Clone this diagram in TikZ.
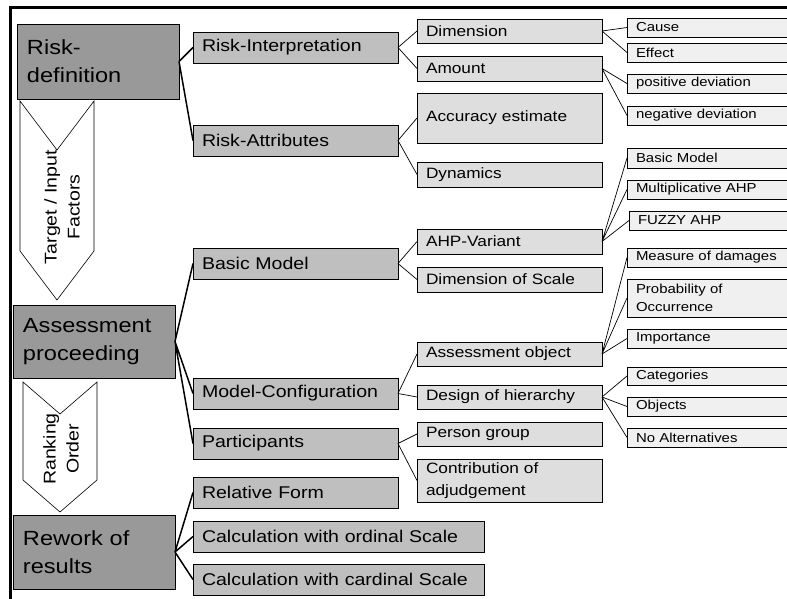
\documentclass[tikz,border=0pt]{standalone}
\usepackage{fontspec}
\newfontfamily\diagfont[FakeStretch=1.15]{Liberation Sans}

\begin{document}
\begin{tikzpicture}[x=1pt, y=-1pt,
  box/.style={draw, anchor=north west, align=left, inner xsep=9pt, inner ysep=1pt,
              outer sep=0pt, line width=0.6pt},
  lzero/.style={box, fill=black!40, inner xsep=10pt, text width=142pt,
                font=\diagfont\fontsize{20.5}{28}\selectfont},
  lone/.style={box, fill=black!25, minimum height=31pt, text width=187pt,
               font=\diagfont\fontsize{17}{20}\selectfont},
  ltwo/.style={box, fill=black!13, minimum height=25pt, text width=167pt,
               font=\diagfont\fontsize{15}{22}\selectfont},
  lthree/.style={box, fill=black!6, minimum height=19pt, text width=145pt,
                 font=\diagfont\fontsize{13}{18}\selectfont},
  trunk/.style={line width=1.5pt},
  twig/.style={line width=0.7pt},
  chevron/.style={draw, fill=white, line width=0.6pt},
  flow/.style={rotate=90, align=center, inner sep=0pt,
               font=\diagfont\fontsize{17}{23}\selectfont}
]
  \useasboundingbox (0,0) rectangle (787,599);
  \draw[line width=3pt] (10,599) -- (10,7.5) -- (787,7.5);

  % main stages
  \node[lzero, minimum height=75pt] (rdef) at (17,24) {Risk-\\definition};
  \node[lzero, minimum height=73pt] (aproc) at (13,305) {Assessment\\proceeding};
  \node[lzero, minimum height=74pt] (rework) at (13,515) {Rework of\\results};

  % chevrons between the stages
  \draw[chevron] (20,101) -- (57,150) -- (94,101) -- (94,251) -- (57,300) -- (20,251) -- cycle;
  \node[flow] (target) at (62,207) {Target / Input\\Factors};
  \draw[chevron] (23,382) -- (60,414) -- (97,382) -- (97,480) -- (60,512) -- (23,480) -- cycle;
  \node[flow] (ranking) at (61,449) {Ranking\\Order};

  % second column
  \node[lone] (rinterp) at (193,32) {Risk-Interpretation};
  \node[lone] (rattr) at (193,125) {Risk-Attributes};
  \node[lone] (bmodel) at (193,248) {Basic Model};
  \node[lone] (mconf) at (193,378) {Model-Configuration};
  \node[lone] (partic) at (193,428) {Participants};
  \node[lone] (relform) at (193,477) {Relative Form};
  \node[lone, text width=273pt] (ordcalc) at (193,521) {Calculation with ordinal Scale};
  \node[lone, text width=273pt] (cardcalc) at (193,564) {Calculation with cardinal Scale};

  % third column
  \node[ltwo, minimum height=24pt] (dim) at (417,19) {Dimension};
  \node[ltwo] (amount) at (417,56) {Amount};
  \node[ltwo, minimum height=50pt] (accur) at (417,93) {Accuracy estimate};
  \node[ltwo] (dyn) at (417,162) {Dynamics};
  \node[ltwo] (ahpvar) at (417,229) {AHP-Variant};
  \node[ltwo] (dimscale) at (417,267) {Dimension of Scale};
  \node[ltwo, minimum height=24pt] (aobj) at (417,342) {Assessment object};
  \node[ltwo, minimum height=24pt] (dhier) at (417,385) {Design of hierarchy};
  \node[ltwo, minimum height=24pt] (pgroup) at (417,422) {Person group};
  \node[ltwo, minimum height=43pt] (contrib) at (417,459) {Contribution of\\adjudgement};

  % fourth column
  \node[lthree] (cause) at (627,18) {Cause};
  \node[lthree] (effect) at (627,43) {Effect};
  \node[lthree] (posdev) at (627,74) {positive deviation};
  \node[lthree] (negdev) at (627,106) {negative deviation};
  \node[lthree, minimum height=20pt] (basicx) at (627,148) {Basic Model};
  \node[lthree] (multahp) at (627,180) {Multiplicative AHP};
  \node[lthree, text width=143pt] (fuzzy) at (629,211) {FUZZY AHP};
  \node[lthree] (damage) at (627,248) {Measure of damages};
  \node[lthree, minimum height=38pt] (prob) at (627,279) {Probability of\\Occurrence};
  \node[lthree] (import) at (627,329) {Importance};
  \node[lthree, minimum height=18pt] (categ) at (627,367) {Categories};
  \node[lthree] (objs) at (627,397) {Objects};
  \node[lthree] (noalt) at (627,428) {No Alternatives};

  \draw[trunk] (rdef.east) -- (rinterp.west) (rdef.east) -- (rattr.west);
  \draw[trunk] (aproc.east) -- (bmodel.west) (aproc.east) -- (mconf.west)
               (aproc.east) -- (partic.west);
  \draw[trunk] (rework.east) -- (relform.west) (rework.east) -- (ordcalc.west)
               (rework.east) -- (cardcalc.west);

  \draw[twig] (rinterp.east) -- (dim.west) (rinterp.east) -- (amount.west);
  \draw[twig] (rattr.east) -- (accur.west) (rattr.east) -- (dyn.west);
  \draw[twig] (bmodel.east) -- (ahpvar.west) (bmodel.east) -- (dimscale.west);
  \draw[twig] (mconf.east) -- (aobj.west) (mconf.east) -- (dhier.west);
  \draw[twig] (partic.east) -- (pgroup.west) (partic.east) -- (contrib.west);

  \draw[twig] (dim.east) -- (cause.west) (dim.east) -- (effect.west);
  \draw[twig] (amount.east) -- (posdev.west) (amount.east) -- (negdev.west);
  \draw[twig] (ahpvar.east) -- (basicx.west) (ahpvar.east) -- (multahp.west)
              (ahpvar.east) -- (fuzzy.west);
  \draw[twig] (aobj.east) -- (damage.west) (aobj.east) -- (prob.west)
              (aobj.east) -- (import.west);
  \draw[twig] (dhier.east) -- (categ.west) (dhier.east) -- (objs.west)
              (dhier.east) -- (noalt.west);
\end{tikzpicture}
\end{document}
